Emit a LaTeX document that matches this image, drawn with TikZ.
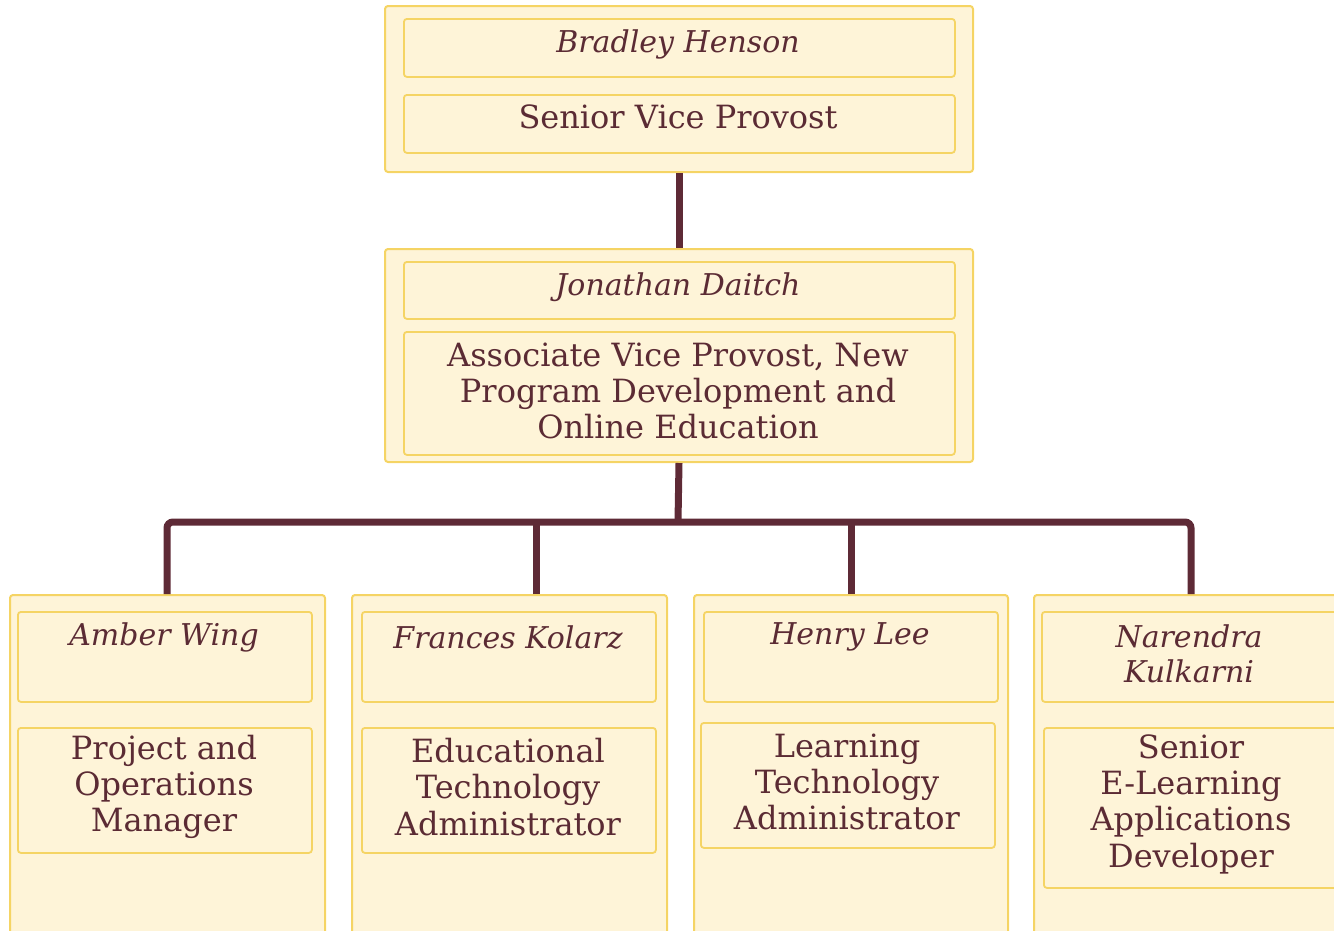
\documentclass[tikz,border=0pt]{standalone}
\usepackage{tikz}
\usepackage{fontspec}
\setmainfont{DejaVu Serif}
\definecolor{boxfill}{HTML}{FEF4D8}
\definecolor{boxline}{HTML}{F5D464}
\definecolor{ink}{HTML}{5B2B34}
\definecolor{wire}{HTML}{5E2A36}
\tikzset{
  outerbox/.style={draw=boxline, fill=boxfill, line width=2pt, rounded corners=3pt, inner sep=0pt, anchor=north west},
  innerbox/.style={draw=boxline, fill=boxfill, line width=1.8pt, rounded corners=3pt, inner sep=0pt, anchor=north west},
  label/.style={text=ink, align=center, inner sep=0pt, font=\fontsize{32}{36.3}\selectfont},
  namelabel/.style={label, font=\fontsize{30}{35.5}\selectfont\itshape},
  conn/.style={draw=wire, line width=7pt},
}
\begin{document}
\begin{tikzpicture}[x=1pt,y=-1pt]
\useasboundingbox (0,0) rectangle (1334,930);
\clip (0,0) rectangle (1334,930);
% top
\node[outerbox, minimum width=588, minimum height=166] (bh) at (384,5) {};
\node[innerbox, minimum width=551, minimum height=58] (bhn) at (403,18) {};
\node[innerbox, minimum width=551, minimum height=58] (bht) at (403,94) {};
\node[namelabel] (bhnl) at (678,44) {Bradley Henson};
\node[label] (bhtl) at (678,117) {Senior Vice Provost};
% second
\node[outerbox, minimum width=588, minimum height=213] (jd) at (384,248) {};
\node[innerbox, minimum width=551, minimum height=57] (jdn) at (403,261) {};
\node[innerbox, minimum width=551, minimum height=123] (jdt) at (403,331) {};
\node[namelabel] (jdnl) at (678,287) {Jonathan Daitch};
\node[label] (jdtl) at (678,391) {Associate Vice Provost, New\\Program Development and\\Online Education};
% bottom row
\node[outerbox, minimum width=315, minimum height=360] (aw) at (9,594) {};
\node[innerbox, minimum width=294, minimum height=90] (awn) at (17,611) {};
\node[innerbox, minimum width=294, minimum height=125] (awt) at (17,727) {};
\node[namelabel] (awnl) at (164,637) {Amber Wing};
\node[label] (awtl) at (164,787) {Project and\\Operations\\Manager};

\node[outerbox, minimum width=315, minimum height=360] (fk) at (351,594) {};
\node[innerbox, minimum width=294, minimum height=90] (fkn) at (361,611) {};
\node[innerbox, minimum width=294, minimum height=125] (fkt) at (361,727) {};
\node[namelabel] (fknl) at (508,637) {Frances Kolarz};
\node[label] (fktl) at (508,787) {Educational\\Technology\\Administrator};

\node[outerbox, minimum width=314, minimum height=360] (hl) at (693,594) {};
\node[innerbox, minimum width=294, minimum height=90] (hln) at (703,611) {};
\node[innerbox, minimum width=294, minimum height=125] (hlt) at (700,722) {};
\node[namelabel] (hlnl) at (850,637) {Henry Lee};
\node[label] (hltl) at (847,782) {Learning\\Technology\\Administrator};

\node[outerbox, minimum width=320, minimum height=360] (nk) at (1033,594) {};
\node[innerbox, minimum width=310, minimum height=90] (nkn) at (1041,611) {};
\node[innerbox, minimum width=310, minimum height=160] (nkt) at (1043,727) {};
\node[namelabel] (nknl) at (1189,654) {Narendra\\Kulkarni};
\node[label] (nktl) at (1191,804) {Senior\\E-Learning\\Applications\\Developer};
% connectors
\coordinate (bus) at (678,522);
\draw[conn] (bh.south) -- (jd.north);
\draw[conn] (jd.south) -- (bus);
\draw[conn, rounded corners=6pt] ([xshift=-0.5pt]aw.north) |- (bus) -| ([xshift=-3pt]nk.north);
\draw[conn] ([xshift=26.5pt]fk.north) -- ([xshift=26.5pt]fk.north |- bus);
\draw[conn] (hl.north) -- (hl.north |- bus);
\end{tikzpicture}
\end{document}
